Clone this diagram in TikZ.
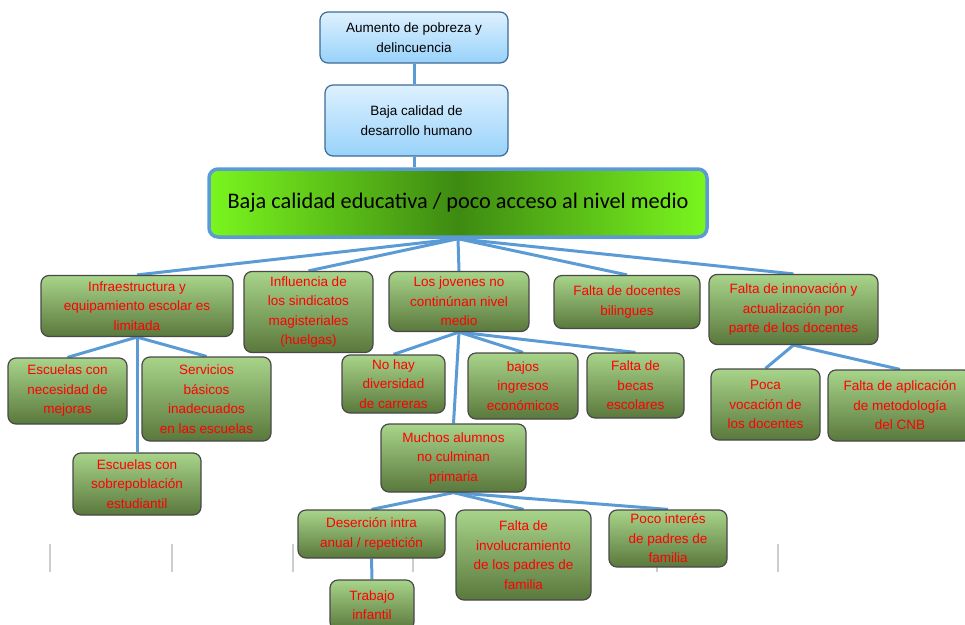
\documentclass[tikz,border=0pt]{standalone}
\usepackage{fontspec}
\setmainfont{Liberation Sans}
\newfontfamily\calibri{Carlito}
\usetikzlibrary{backgrounds}

\definecolor{linkblue}{RGB}{91,155,213}
\definecolor{leaftop}{RGB}{168,212,138}
\definecolor{leafbot}{RGB}{90,120,60}
\definecolor{leafline}{RGB}{72,72,72}
\definecolor{effecttop}{RGB}{222,241,255}
\definecolor{effectbot}{RGB}{152,210,250}
\definecolor{effectline}{RGB}{62,106,150}
\definecolor{coreedge}{RGB}{122,246,30}
\definecolor{coremid}{RGB}{62,138,18}
\definecolor{tickgray}{RGB}{205,205,205}

\begin{document}
\begin{tikzpicture}[x=1pt, y=-1pt,
    cause/.style = {draw=leafline, line width=1.2pt, rounded corners=8pt,
        top color=leaftop, bottom color=leafbot, text=red, align=center,
        inner sep=0pt, font=\fontsize{13.5}{19.5}\selectfont},
    effect/.style = {draw=effectline, line width=1.2pt, rounded corners=8pt,
        top color=effecttop, bottom color=effectbot, text=black, align=center,
        inner sep=0pt, font=\fontsize{13.5}{19.5}\selectfont},
    core/.style = {draw=linkblue, line width=3.5pt, rounded corners=9pt,
        left color=coreedge, right color=coreedge, middle color=coremid,
        align=center, inner sep=0pt, font=\calibri\fontsize{22.3}{26}\selectfont},
    link/.style = {draw=linkblue, line width=3pt},
    tick/.style = {draw=tickgray, line width=1.5pt}]

        \useasboundingbox (0,0) rectangle (965,624);

        % Effects on top
        \node[effect, minimum width=188, minimum height=51] (aumento) at (414,37.5) {Aumento de pobreza y\\delincuencia};
        \node[effect, minimum width=183, minimum height=71] (desarrollo) at (416.5,120.5) {Baja calidad de\\desarrollo humano};
        \coordinate (eje) at (414,0);

        % Central problem
        \node[core, minimum width=498, minimum height=68] (problema) at (458,203) {Baja calidad educativa / poco acceso al nivel medio};

        % First level of causes
        \node[cause, minimum width=192, minimum height=61] (infra) at (137,306) {Infraestructura y\\equipamiento escolar es\\limitada};
        \node[cause, minimum width=129, minimum height=81] (sindicatos) at (308.5,312) {Influencia de\\los sindicatos\\magisteriales\\(huelgas)};
        \node[cause, minimum width=140, minimum height=60] (jovenes) at (459,301.5) {Los jovenes no\\continúnan nivel\\medio};
        \node[cause, minimum width=146, minimum height=53] (bilingues) at (627,302) {Falta de docentes\\bilingues};
        \node[cause, minimum width=169, minimum height=70] (innovacion) at (793.5,309.5) {Falta de innovación y\\actualización por\\parte de los docentes};

        % Causes of the infrastructure problem
        \node[cause, minimum width=119, minimum height=66] (mejoras) at (67.5,391) {Escuelas con\\necesidad de\\mejoras};
        \node[cause, minimum width=129, minimum height=84] (servicios) at (206.5,399) {Servicios\\básicos\\inadecuados\\en las escuelas};
        \node[cause, minimum width=128, minimum height=62] (sobrepob) at (137,484) {Escuelas con\\sobrepoblación\\estudiantil};

        % Causes of the youth problem
        \node[cause, minimum width=103, minimum height=58] (diversidad) at (393.5,384) {No hay\\diversidad\\de carreras};
        \node[cause, minimum width=110, minimum height=66] (ingresos) at (523,386) {bajos\\ingresos\\económicos};
        \node[cause, minimum width=97, minimum height=65] (becas) at (635.5,385.5) {Falta de\\becas\\escolares};
        \node[cause, minimum width=145, minimum height=68] (primaria) at (453.5,458) {Muchos alumnos\\no culminan\\primaria};

        % Causes of not finishing primary school
        \node[cause, minimum width=147, minimum height=48] (desercion) at (371.5,534) {Deserción intra\\anual / repetición};
        \node[cause, minimum width=135, minimum height=90] (padres) at (523.5,555) {Falta de\\involucramiento\\de los padres de\\familia};
        \node[cause, minimum width=118, minimum height=57] (interes) at (668,538.5) {Poco interés\\de padres de\\familia};
        \node[cause, minimum width=84, minimum height=50] (trabajo) at (372,605) {Trabajo\\infantil};

        % Causes of the teacher problem
        \node[cause, minimum width=109, minimum height=71] (vocacion) at (765.5,404.5) {Poca\\vocación de\\los docentes};
        \node[cause, minimum width=144, minimum height=71] (metodologia) at (900,405.5) {Falta de aplicación\\de metodología\\del CNB};

        \begin{scope}[on background layer]
            % Faint vertical marks
            \foreach \x in {50,172,293,413,535,657,778}{
                \draw[tick] (\x,544) -- (\x,572);
              }

            % Connections
            \draw[link] (eje |- aumento.south) -- (eje |- desarrollo.north);
            \draw[link] (eje |- desarrollo.south) -- (eje |- problema.north);
            \foreach \kid in {infra,sindicatos,jovenes,bilingues,innovacion}{
                \draw[link] (problema.south) -- (\kid.north);
              }
            \foreach \kid in {mejoras,servicios,sobrepob}{
                \draw[link] (infra.south) -- (\kid.north);
              }
            \foreach \kid in {diversidad,ingresos,becas,primaria}{
                \draw[link] (jovenes.south) -- (\kid.north);
              }
            \foreach \kid in {desercion,padres,interes}{
                \draw[link] (primaria.south) -- (\kid.north);
              }
            \draw[link] (desercion) -- (trabajo);
            \foreach \kid in {vocacion,metodologia}{
                \draw[link] (innovacion.south) -- (\kid.north);
              }
        \end{scope}
      \end{tikzpicture}
\end{document}
